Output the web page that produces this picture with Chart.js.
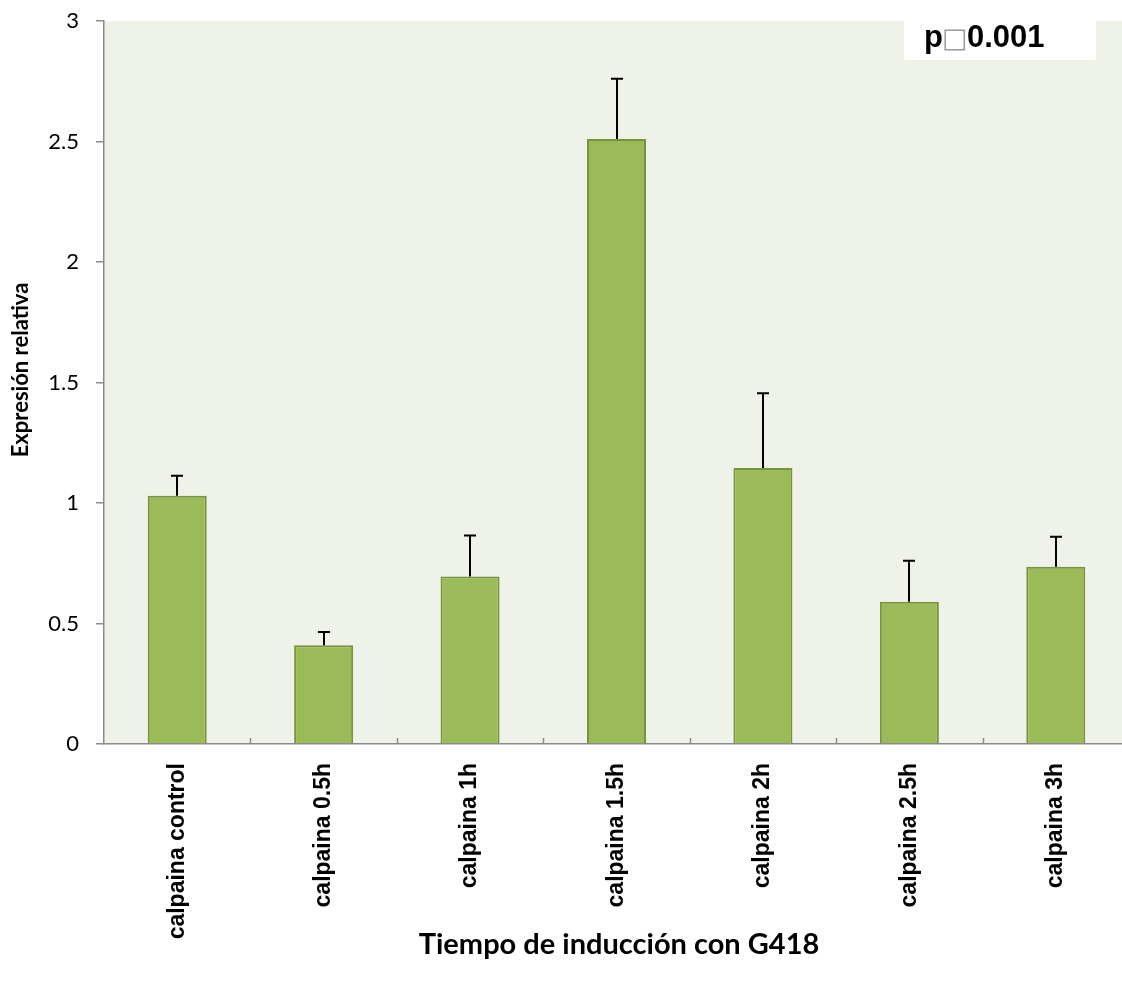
<!DOCTYPE html>
<html>
<head>
<meta charset="utf-8">
<script src="https://cdn.jsdelivr.net/npm/chart.js@4.4.1/dist/chart.umd.min.js"></script>
<style>
  html, body { margin: 0; padding: 0; background: #ffffff; overflow: hidden; }
  #wrap { position: absolute; left: 0; top: 0; width: 1140px; height: 989px; }
</style>
</head>
<body>
<div id="wrap"><canvas id="c" width="1140" height="989"></canvas></div>
<script>
// Relative calpain expression after G418 induction
const categories = ['calpaina control', 'calpaina 0.5h', 'calpaina 1h', 'calpaina 1.5h', 'calpaina 2h', 'calpaina 2.5h', 'calpaina 3h'];
const expression = [1.03, 0.41, 0.695, 2.51, 1.145, 0.59, 0.735];
const errorUp = [0.083, 0.055, 0.17, 0.25, 0.31, 0.17, 0.125];
const yTicks = [0, 0.5, 1, 1.5, 2, 2.5, 3];
const yTitle = 'Expresión relativa';
const xTitle = 'Tiempo de inducción con G418';
const pLabel = ['p', '\u25A1', '0.001'];

const axisGray = '#8a8a8a';

// plot-area fill, inward category ticks, error bars, titles and p-value box
const decor = {
  id: 'decor',
  beforeDraw(chart) {
    const { ctx, chartArea: a } = chart;
    ctx.save();
    ctx.fillStyle = '#eff2e9';
    ctx.fillRect(a.left, a.top, a.right - a.left, a.bottom - a.top);
    ctx.restore();
  },
  afterDraw(chart) {
    const { ctx, chartArea: a } = chart;
    const xs = chart.scales.x;
    ctx.save();
    // small tick marks between categories, pointing into the plot
    ctx.strokeStyle = axisGray;
    ctx.lineWidth = 1.5;
    const step = (xs.getPixelForValue(1) - xs.getPixelForValue(0));
    for (let i = 1; i <= categories.length; i++) {
      const x = Math.round(xs.getPixelForValue(i) - step / 2) + 0.5;
      ctx.beginPath();
      ctx.moveTo(x, a.bottom);
      ctx.lineTo(x, a.bottom - 6);
      ctx.stroke();
    }
    // axis titles
    ctx.fillStyle = '#000';
    ctx.font = 'bold 29px Lato, "Open Sans", sans-serif';
    ctx.textAlign = 'center';
    ctx.textBaseline = 'middle';
    ctx.fillText(xTitle, 619, 945);
    ctx.save();
    ctx.translate(21, 370);
    ctx.rotate(-Math.PI / 2);
    ctx.font = 'bold 22px Lato, "Open Sans", sans-serif';
    ctx.fillText(yTitle, 0, 0);
    ctx.restore();
    // p-value box
    ctx.fillStyle = '#ffffff';
    ctx.fillRect(904, 21, 192, 39);
    ctx.textAlign = 'left';
    ctx.textBaseline = 'alphabetic';
    ctx.fillStyle = '#000';
    ctx.font = 'bold 31px "Liberation Sans", Arial, sans-serif';
    ctx.fillText(pLabel[0], 924, 47);
    ctx.fillStyle = '#9a9a9a';
    ctx.font = '27px "DejaVu Sans", sans-serif';
    ctx.fillText(pLabel[1], 942, 47);
    ctx.fillStyle = '#000';
    ctx.font = 'bold 31px "Liberation Sans", Arial, sans-serif';
    ctx.fillText(pLabel[2], 967, 47);
    ctx.restore();
  },
  afterDatasetsDraw(chart) {
    const { ctx } = chart;
    const ys = chart.scales.y;
    const meta = chart.getDatasetMeta(0);
    ctx.save();
    ctx.strokeStyle = '#000';
    ctx.lineWidth = 2;
    meta.data.forEach((bar, i) => {
      const x = Math.round(bar.x);
      const y0 = ys.getPixelForValue(expression[i]);
      const y1 = ys.getPixelForValue(expression[i] + errorUp[i]);
      ctx.beginPath();
      ctx.moveTo(x, y0);
      ctx.lineTo(x, y1);
      ctx.moveTo(x - 6, y1);
      ctx.lineTo(x + 6, y1);
      ctx.stroke();
    });
    ctx.restore();
  }
};

new Chart(document.getElementById('c'), {
  type: 'bar',
  data: {
    labels: categories,
    datasets: [{
      data: expression,
      backgroundColor: '#9bbb59',
      borderColor: '#77933c',
      borderWidth: 2,
      categoryPercentage: 1,
      barPercentage: 0.403
    }]
  },
  options: {
    responsive: false,
    animation: false,
    devicePixelRatio: 1,
    layout: { padding: { left: 0, top: 21, right: 11, bottom: 0 } },
    plugins: { legend: { display: false }, tooltip: { enabled: false }, title: { display: false } },
    scales: {
      x: {
        grid: { display: false },
        border: { display: true, color: axisGray, width: 1.5 },
        ticks: {
          minRotation: 90, maxRotation: 90, padding: 11,
          color: '#000',
          font: { family: '"Liberation Sans", Arial, sans-serif', size: 23, weight: 'bold' }
        },
        afterFit(scale) { scale.height = 245; }
      },
      y: {
        min: 0, max: 3,
        afterBuildTicks(scale) { scale.ticks = yTicks.map(v => ({ value: v })); },
        grid: { display: true, drawOnChartArea: false, drawTicks: true, tickLength: 8, color: axisGray, lineWidth: 1.5 },
        border: { display: true, color: axisGray, width: 1.5 },
        ticks: {
          padding: 17,
          color: '#000',
          font: { family: 'Lato, "Open Sans", sans-serif', size: 22 },
          callback: (v) => String(v)
        },
        afterFit(scale) {
          scale.width = 104;
          scale.paddingTop = 8;
          scale.paddingBottom = 8;
        }
      }
    }
  },
  plugins: [decor]
});
</script>
</body>
</html>
